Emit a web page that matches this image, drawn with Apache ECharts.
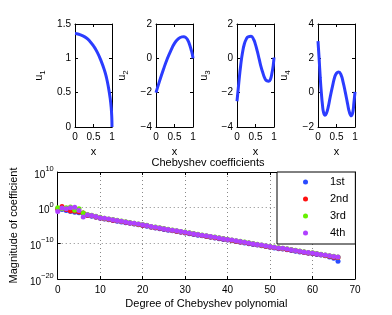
<!DOCTYPE html>
<html><head><meta charset="utf-8">
<script src="https://cdn.jsdelivr.net/npm/echarts@6/dist/echarts.min.js"></script>
<style>html,body{margin:0;padding:0;background:#fff}#c{width:392px;height:315px}</style>
</head><body><div id="c"></div>
<script>
// ---- top panels: eigenfunctions u1..u4 sampled on x in [0,1]
const x1 = [0,0.1,0.2,0.3,0.4,0.5,0.6,0.7,0.8,0.85,0.9,0.95,0.98,0.995,1.0];
const u1 = [1.36,1.35,1.33,1.30,1.25,1.18,1.09,0.97,0.82,0.72,0.59,0.42,0.27,0.13,0.0];
const x2 = [0,0.1,0.2,0.3,0.4,0.5,0.6,0.7,0.75,0.8,0.85,0.9,0.95,0.98,1.0];
const u2 = [-2.0,-1.3,-0.65,-0.05,0.45,0.87,1.13,1.25,1.26,1.22,1.1,0.85,0.5,0.25,0.0];
const x3 = [0,0.05,0.1,0.15,0.2,0.25,0.3,0.38,0.45,0.5,0.55,0.6,0.65,0.7,0.75,0.8,0.86,0.9,0.95,0.98,1.0];
const u3 = [-2.5,-1.4,-0.4,0.35,0.85,1.12,1.25,1.28,1.1,0.8,0.4,-0.05,-0.5,-0.85,-1.15,-1.3,-1.33,-1.25,-0.8,-0.4,0.05];
const x4 = [0,0.03,0.06,0.09,0.12,0.15,0.19,0.23,0.28,0.33,0.4,0.45,0.5,0.56,0.62,0.68,0.74,0.8,0.85,0.9,0.94,0.97,1.0];
const u4 = [3.0,2.0,0.9,0.0,-0.7,-1.15,-1.32,-1.2,-0.8,-0.25,0.45,0.9,1.13,1.2,1.05,0.6,0.0,-0.65,-1.15,-1.35,-1.15,-0.6,0.05];

// ---- bottom panel: log10 |Chebyshev coefficient| for degrees 0..66
const degrees = Array.from({length:67},(_,i)=>i);
const c1log = [-0.3,-0.5,-0.8,-1.1,-1.3,-1.4,-1.6,-2.2,-2.4,-2.7,-3.0,
 -3.2,-3.4,-3.6,-3.8,-4.0,-4.2,-4.4,-4.6,-4.8,-5.0,
 -5.2,-5.5,-5.7,-5.9,-6.1,-6.3,-6.5,-6.7,-6.9,-7.1,
 -7.3,-7.5,-7.7,-7.9,-8.1,-8.3,-8.5,-8.7,-8.9,-9.1,
 -9.3,-9.5,-9.7,-9.9,-10.1,-10.3,-10.5,-10.7,-10.9,-11.1,
 -11.3,-11.5,-11.6,-11.8,-12.0,-12.2,-12.4,-12.6,-12.8,-12.9,
 -13.1,-13.3,-13.5,-13.8,-14.2,-15.0];
const c2log = [-0.4,0.3,-0.5,-0.9,-1.0,-1.2,-1.5,-2.1,-2.3,-2.6,-2.9,
 -3.1,-3.3,-3.5,-3.7,-3.9,-4.1,-4.3,-4.5,-4.7,-4.9,
 -5.1,-5.4,-5.6,-5.8,-6.0,-6.2,-6.4,-6.6,-6.8,-7.0,
 -7.2,-7.4,-7.6,-7.8,-8.0,-8.2,-8.4,-8.6,-8.8,-9.0,
 -9.2,-9.4,-9.6,-9.8,-10.0,-10.2,-10.4,-10.6,-10.8,-11.0,
 -11.2,-11.4,-11.5,-11.7,-11.9,-12.1,-12.3,-12.5,-12.7,-12.8,
 -13.0,-13.2,-13.4,-13.6,-13.9,-14.0];
const c3log = [0.0,-0.3,0.0,0.2,-0.7,-0.3,-1.5,-1.9,-2.1,-2.4,-2.7,
 -2.95,-3.15,-3.35,-3.55,-3.75,-3.95,-4.15,-4.35,-4.55,-4.75,
 -4.95,-5.25,-5.45,-5.65,-5.85,-6.05,-6.25,-6.45,-6.65,-6.85,
 -7.05,-7.25,-7.45,-7.65,-7.85,-8.05,-8.25,-8.45,-8.65,-8.85,
 -9.05,-9.25,-9.45,-9.65,-9.85,-10.05,-10.25,-10.45,-10.65,-10.85,
 -11.05,-11.25,-11.35,-11.55,-11.75,-11.95,-12.15,-12.35,-12.55,-12.65,
 -12.85,-13.05,-13.25,-13.45,-13.6,-13.8];
const c4log = [-1.1,-0.1,-0.3,0.0,0.1,-0.8,-2.6,-2.0,-2.2,-2.5,-2.8,
 -3.0,-3.2,-3.4,-3.6,-3.8,-4.0,-4.2,-4.4,-4.6,-4.8,
 -5.0,-5.3,-5.5,-5.7,-5.9,-6.1,-6.3,-6.5,-6.7,-6.9,
 -7.1,-7.3,-7.5,-7.7,-7.9,-8.1,-8.3,-8.5,-8.7,-8.9,
 -9.1,-9.3,-9.5,-9.7,-9.9,-10.1,-10.3,-10.5,-10.7,-10.9,
 -11.1,-11.3,-11.4,-11.6,-11.8,-12.0,-12.2,-12.4,-12.6,-12.7,
 -12.9,-13.1,-13.3,-13.5,-13.7,-13.8];
const seriesNames = ['1st','2nd','3rd','4th'];
const seriesColors = ['#2a4bff','#ff1010','#66f000','#b040ff'];

const FONT = 'Liberation Sans, Arial, sans-serif';
const chart = echarts.init(document.getElementById('c'), null, {renderer:'canvas'});

const topGrids = [
  {left:75, top:24, width:37, height:103},
  {left:156, top:24, width:37, height:103},
  {left:237, top:24, width:37, height:103},
  {left:318, top:24, width:37, height:103}
];
const yRanges = [[0,1.5,0.5],[-4,2,2],[-4,2,2],[-2,4,2]];
const yGaps = [27,25,24,25];
const curves = [[x1,u1],[x2,u2],[x3,u3],[x4,u4]];

const grids = topGrids.slice();
grids.push({left:51, top:172, width:304, height:107});

const axLine = {show:true, onZero:false, lineStyle:{color:'#000', width:1}};
const tick = {show:true, inside:true, length:3, lineStyle:{color:'#000'}};
const lbl = {color:'#000', fontFamily:FONT, fontSize:10};

const xAxes = [], yAxes = [], series = [];
for (let i=0;i<4;i++){
  xAxes.push({type:'value', gridIndex:i, position:'bottom', min:0, max:1, interval:0.5,
    axisLine:axLine, axisTick:tick, splitLine:{show:false},
    axisLabel:Object.assign({margin:5, formatter:v=>String(v)},lbl),
    name:'x', nameLocation:'middle', nameGap:19,
    nameTextStyle:{color:'#000', fontFamily:FONT, fontSize:11}});
  xAxes.push({type:'value', gridIndex:i, position:'top', min:0, max:1, interval:0.5,
    axisLine:axLine, axisTick:tick, splitLine:{show:false}, axisLabel:{show:false}});
  const r = yRanges[i];
  yAxes.push({type:'value', gridIndex:i, position:'left', min:r[0], max:r[1], interval:r[2],
    axisLine:axLine, axisTick:tick, splitLine:{show:false},
    axisLabel:Object.assign({margin:4, formatter:v=>String(v).replace('-','\u2212')},lbl),
    name:'{u|u}{s|'+(i+1)+'}', nameLocation:'middle', nameGap:yGaps[i],
    nameTextStyle:{color:'#000', fontFamily:FONT, rich:{
      u:{fontSize:11, fontFamily:FONT, color:'#000', padding:[0,0,4,0]},
      s:{fontSize:8, fontFamily:FONT, color:'#000', padding:[5,0,0,0]}}}});
  yAxes.push({type:'value', gridIndex:i, position:'right', min:r[0], max:r[1], interval:r[2],
    axisLine:axLine, axisTick:tick, splitLine:{show:false}, axisLabel:{show:false}});
  const [xs,us] = curves[i];
  series.push({type:'line', xAxisIndex:2*i, yAxisIndex:2*i, smooth:0.5, showSymbol:false,
    data: xs.map((x,k)=>[x,us[k]]), lineStyle:{color:'#2b3cff', width:3}, silent:true});
}

const supLabel = v=>{
  const e = Math.round(Math.log10(v));
  return '{b|10}{p|'+String(e).replace('-','\u2212')+'}';
};
const grid4Tick = {show:true, inside:true, length:3, lineStyle:{color:'#000'}};
xAxes.push({type:'value', gridIndex:4, position:'bottom', min:0, max:70, interval:10,
  axisLine:axLine, axisTick:grid4Tick,
  splitLine:{show:true, lineStyle:{color:'#888', type:[1,3], width:1}},
  axisLabel:Object.assign({margin:6},lbl),
  name:'Degree of Chebyshev polynomial', nameLocation:'middle', nameGap:19,
  nameTextStyle:{color:'#000', fontFamily:FONT, fontSize:11}});
xAxes.push({type:'value', gridIndex:4, position:'top', min:0, max:70, interval:10,
  axisLine:axLine, axisTick:grid4Tick, splitLine:{show:false}, axisLabel:{show:false}});
yAxes.push({type:'log', logBase:10, gridIndex:4, position:'left', min:1e-20, max:1e10, interval:10,
  axisLine:axLine, axisTick:grid4Tick, minorTick:{show:false},
  splitLine:{show:true, lineStyle:{color:'#888', type:[1,3], width:1}},
  axisLabel:{margin:4, formatter:supLabel, rich:{
    b:{fontSize:10, fontFamily:FONT, color:'#000', padding:[6,0,0,0]},
    p:{fontSize:7.5, fontFamily:FONT, color:'#000', padding:[0,0,6,0]}}},
  name:'Magnitude of coefficient', nameLocation:'middle', nameGap:38,
  nameTextStyle:{color:'#000', fontFamily:FONT, fontSize:11}});
yAxes.push({type:'log', logBase:10, gridIndex:4, position:'right', min:1e-20, max:1e10, interval:10,
  axisLine:axLine, axisTick:grid4Tick, minorTick:{show:false}, splitLine:{show:false}, axisLabel:{show:false}});

const logs = [c1log,c2log,c3log,c4log];
for (let s=0;s<4;s++){
  series.push({type:'scatter', name:seriesNames[s], xAxisIndex:8, yAxisIndex:8,
    symbol:'circle', symbolSize:5, itemStyle:{color:seriesColors[s], opacity:1},
    data: degrees.map((d,k)=>[d, Math.pow(10, logs[s][k])]), silent:true});
}

chart.setOption({
  animation:false,
  backgroundColor:'#fff',
  textStyle:{fontFamily:FONT},
  title:{text:'Chebyshev coefficients', left:203, top:152, textAlign:'center',
    textStyle:{fontFamily:FONT, fontSize:11, fontWeight:'normal', color:'#000'}},
  legend:{data:seriesNames, orient:'vertical', left:277, top:172,
    padding:[3,7,4,26], itemGap:3, itemWidth:5, itemHeight:5, icon:'circle',
    borderColor:'#000', borderWidth:1, backgroundColor:'#fff',
    textStyle:{fontFamily:FONT, fontSize:11, color:'#000', lineHeight:14, padding:[0,0,0,17]}},
  grid:grids, xAxis:xAxes, yAxis:yAxes, series:series
});
</script></body></html>
